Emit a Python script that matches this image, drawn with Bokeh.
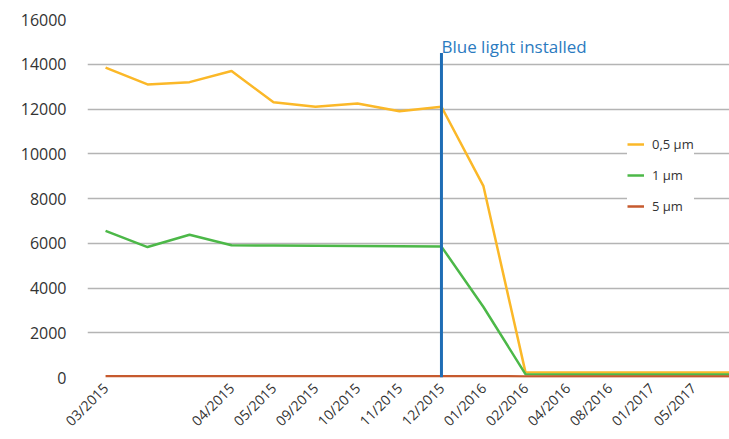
from bokeh.plotting import figure
from bokeh.models import Range1d, FixedTicker, Legend
from bokeh.core.properties import value
from bokeh.embed import file_html
from bokeh.resources import INLINE
import math

# ---- data ----
date_labels = ["03/2015", "", "", "04/2015", "05/2015", "09/2015", "10/2015", "11/2015",
               "12/2015", "01/2016", "02/2016", "04/2016", "08/2016", "01/2017", "05/2017", "08/2017"]
pm05 = [13850, 13100, 13200, 13700, 12300, 12100, 12250, 11900, 12100, 8550,
        240, 220, 220, 220, 220, 220]
pm1 = [6550, 5830, 6380, 5910, 5900, 5890, 5880, 5870, 5850, 3150,
       150, 130, 130, 130, 130, 130]
pm5 = [60, 60, 58, 58, 56, 55, 55, 54, 52, 52, 50, 50, 50, 50, 50, 50]
series_names = ["0,5 µm", "1 µm", "5 µm"]
y_ticks = [0, 2000, 4000, 6000, 8000, 10000, 12000, 14000, 16000]
event_index = 8
event_top = 14500
event_label = "Blue light installed"
event_label_y = 14800

idx = list(range(len(date_labels)))
FONT = "Open Sans"

p = figure(width=729, height=439, output_backend="svg", toolbar_location=None,
           x_range=Range1d(-0.43, 14.86), y_range=Range1d(0, 16000),
           min_border_left=87, min_border_right=0, min_border_top=19, min_border_bottom=62)
p.outline_line_color = None
p.background_fill_color = "white"
p.border_fill_color = "white"

r1 = p.line(idx, pm05, line_color="#fbb828", line_width=2.5)
r2 = p.line(idx, pm1, line_color="#4cb848", line_width=2.5)
r3 = p.line(idx, pm5, line_color="#c65a2e", line_width=2.5)

p.segment(x0=[event_index], y0=[0], x1=[event_index], y1=[event_top],
          line_color="#1f6db5", line_width=3)
p.text(x=[event_index], y=[event_label_y], text=[event_label],
       text_font=value(FONT), text_font_size="17px", text_color="#2b7bbf",
       text_baseline="alphabetic", text_align="left")

# axes
p.xgrid.grid_line_color = None
p.ygrid.grid_line_color = "#b4b4b4"
p.ygrid.grid_line_width = 1.5
p.yaxis.ticker = FixedTicker(ticks=y_ticks)
p.yaxis.axis_line_color = None
p.yaxis.major_tick_line_color = None
p.yaxis.minor_tick_line_color = None
p.yaxis.major_tick_out = 0
p.yaxis.major_tick_in = 0
p.yaxis.minor_tick_out = 0
p.yaxis.minor_tick_in = 0
p.yaxis.major_label_standoff = 21
p.yaxis.major_label_text_font = FONT
p.yaxis.major_label_text_font_size = "16px"
p.yaxis.major_label_text_color = "#333333"

p.xaxis.ticker = FixedTicker(ticks=[i for i, l in enumerate(date_labels) if l])
p.xaxis.major_label_overrides = {i: l for i, l in enumerate(date_labels) if l}
p.xaxis.axis_line_color = None
p.xaxis.major_tick_line_color = None
p.xaxis.minor_tick_line_color = None
p.xaxis.major_tick_out = 0
p.xaxis.major_tick_in = 0
p.xaxis.minor_tick_out = 0
p.xaxis.minor_tick_in = 0
p.xaxis.major_label_orientation = math.pi / 4
p.xaxis.major_label_standoff = 8
p.xaxis.major_label_text_font = FONT
p.xaxis.major_label_text_font_size = "14px"
p.xaxis.major_label_text_color = "#333333"

legend = Legend(items=[(series_names[0], [r1]), (series_names[1], [r2]), (series_names[2], [r3])],
                location=(540, 161), padding=13, spacing=11, label_height=20, glyph_height=20,
                glyph_width=17, label_standoff=8, margin=0,
                label_text_font=FONT, label_text_font_size="13px", label_text_color="#333333",
                background_fill_color="white", background_fill_alpha=1.0,
                border_line_color=None)
p.add_layout(legend, "center")

open("out.html", "w").write(file_html(p, INLINE))
